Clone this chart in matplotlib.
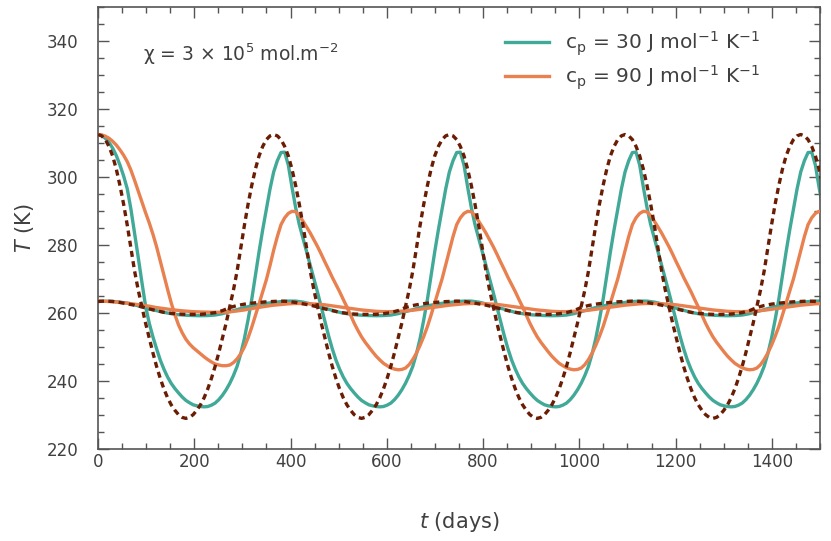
import numpy as np
import matplotlib
matplotlib.use("Agg")
import matplotlib.pyplot as plt
from matplotlib.ticker import MultipleLocator

# ---- data: temperatures (K) -------------------------------------------
# Large-amplitude series: sampled every 365/48 days
# equilibrium (forcing) temperature (dashed)
T_eq_big = [
    312.5, 312.1, 311.0, 309.0, 306.2, 302.3, 297.5, 292.0, 285.8, 279.0, 272.3, 266.7,
    261.8, 257.0, 252.6, 248.3, 244.3, 240.8, 237.7, 235.1, 233.0, 231.4, 230.1, 229.3,
    229.0, 229.3, 230.1, 231.4, 233.0, 235.1, 237.7, 240.8, 244.3, 248.3, 252.6, 257.0,
    261.8, 266.7, 272.3, 279.0, 285.8, 292.0, 297.5, 302.3, 306.2, 309.0, 311.0, 312.1,
    312.5, 312.1, 311.0, 309.0, 306.2, 302.3, 297.5, 292.0, 285.8, 279.0, 272.3, 266.7,
    261.8, 257.0, 252.6, 248.3, 244.3, 240.8, 237.7, 235.1, 233.0, 231.4, 230.1, 229.3,
    229.0, 229.3, 230.1, 231.4, 233.0, 235.1, 237.7, 240.8, 244.3, 248.3, 252.6, 257.0,
    261.8, 266.7, 272.3, 279.0, 285.8, 292.0, 297.5, 302.3, 306.2, 309.0, 311.0, 312.1,
    312.5, 312.1, 311.0, 309.0, 306.2, 302.3, 297.5, 292.0, 285.8, 279.0, 272.3, 266.7,
    261.8, 257.0, 252.6, 248.3, 244.3, 240.8, 237.7, 235.1, 233.0, 231.4, 230.1, 229.3,
    229.0, 229.3, 230.1, 231.4, 233.0, 235.1, 237.7, 240.8, 244.3, 248.3, 252.6, 257.0,
    261.8, 266.7, 272.3, 279.0, 285.8, 292.0, 297.5, 302.3, 306.2, 309.0, 311.0, 312.1,
    312.5, 312.1, 311.0, 309.0, 306.2, 302.3, 297.5, 292.0, 285.8, 279.0, 272.3, 266.7,
    261.8, 257.0, 252.6, 248.3, 244.3, 240.8, 237.7, 235.1, 233.0, 231.4, 230.1, 229.3,
    229.0, 229.3, 230.1, 231.4, 233.0, 235.1, 237.7, 240.8, 244.3, 248.3, 252.6, 257.0,
    261.8, 266.7, 272.3, 279.0, 285.8, 292.0, 297.5, 302.3, 306.2, 309.0, 311.0, 312.1,
    312.5, 312.1, 311.0, 309.0, 306.2, 302.3, 297.5,
]
# cp = 30 J/mol/K
T_cp30_big = [
    312.5, 312.2, 311.4, 310.2, 308.5, 306.3, 303.5, 300.3, 296.5, 290.5, 283.5, 276.3,
    269.0, 262.0, 257.0, 253.0, 249.5, 246.2, 243.5, 241.2, 239.3, 237.8, 236.5, 235.3,
    234.3, 233.6, 233.0, 232.7, 232.5, 232.4, 232.5, 232.9, 233.5, 234.5, 235.8, 237.4,
    239.3, 241.6, 244.3, 248.0, 252.5, 258.0, 264.0, 271.0, 278.0, 284.5, 290.5, 296.5,
    301.5, 304.8, 307.2, 307.3, 303.5, 297.0, 291.0, 286.0, 282.0, 278.0, 274.0, 270.0,
    266.0, 261.7, 257.5, 253.3, 249.5, 246.2, 243.5, 241.2, 239.3, 237.8, 236.5, 235.3,
    234.3, 233.6, 233.0, 232.7, 232.5, 232.4, 232.5, 232.9, 233.5, 234.5, 235.8, 237.4,
    239.3, 241.6, 244.3, 248.0, 252.5, 258.0, 264.0, 271.0, 278.0, 284.5, 290.5, 296.5,
    301.5, 304.8, 307.2, 307.3, 303.5, 297.0, 291.0, 286.0, 282.0, 278.0, 274.0, 270.0,
    266.0, 261.7, 257.5, 253.3, 249.5, 246.2, 243.5, 241.2, 239.3, 237.8, 236.5, 235.3,
    234.3, 233.6, 233.0, 232.7, 232.5, 232.4, 232.5, 232.9, 233.5, 234.5, 235.8, 237.4,
    239.3, 241.6, 244.3, 248.0, 252.5, 258.0, 264.0, 271.0, 278.0, 284.5, 290.5, 296.5,
    301.5, 304.8, 307.2, 307.3, 303.5, 297.0, 291.0, 286.0, 282.0, 278.0, 274.0, 270.0,
    266.0, 261.7, 257.5, 253.3, 249.5, 246.2, 243.5, 241.2, 239.3, 237.8, 236.5, 235.3,
    234.3, 233.6, 233.0, 232.7, 232.5, 232.4, 232.5, 232.9, 233.5, 234.5, 235.8, 237.4,
    239.3, 241.6, 244.3, 248.0, 252.5, 258.0, 264.0, 271.0, 278.0, 284.5, 290.5, 296.5,
    301.5, 304.8, 307.2, 307.3, 303.5, 297.0, 291.0,
]
# cp = 90 J/mol/K
T_cp90_big = [
    312.5, 312.4, 312.0, 311.4, 310.5, 309.4, 308.0, 306.4, 304.5, 302.0, 299.0, 295.8,
    292.5, 289.5, 286.5, 283.2, 279.5, 275.3, 271.0, 267.0, 263.0, 259.5, 256.5, 254.2,
    252.3, 250.9, 249.8, 248.9, 248.0, 247.1, 246.3, 245.6, 245.0, 244.7, 244.5, 244.5,
    244.7, 245.4, 246.5, 248.0, 250.0, 252.7, 255.8, 259.2, 262.7, 266.2, 269.8, 274.0,
    278.5, 282.5, 286.0, 288.0, 289.3, 289.9, 289.8, 288.6, 287.0, 285.3, 283.5, 281.5,
    279.5, 277.3, 275.0, 272.8, 270.5, 268.4, 266.3, 264.0, 261.8, 259.4, 257.0, 254.9,
    253.0, 251.4, 250.0, 248.6, 247.3, 246.2, 245.2, 244.5, 243.9, 243.5, 243.3, 243.4,
    243.8, 244.8, 246.3, 248.2, 250.5, 253.1, 256.0, 259.4, 263.0, 266.5, 270.0, 274.2,
    278.5, 282.5, 286.0, 288.0, 289.3, 289.9, 289.8, 288.6, 287.0, 285.3, 283.5, 281.5,
    279.5, 277.3, 275.0, 272.8, 270.5, 268.4, 266.3, 264.0, 261.8, 259.4, 257.0, 254.9,
    253.0, 251.4, 250.0, 248.6, 247.3, 246.2, 245.2, 244.5, 243.9, 243.5, 243.3, 243.4,
    243.8, 244.8, 246.3, 248.2, 250.5, 253.1, 256.0, 259.4, 263.0, 266.5, 270.0, 274.2,
    278.5, 282.5, 286.0, 288.0, 289.3, 289.9, 289.8, 288.6, 287.0, 285.3, 283.5, 281.5,
    279.5, 277.3, 275.0, 272.8, 270.5, 268.4, 266.3, 264.0, 261.8, 259.4, 257.0, 254.9,
    253.0, 251.4, 250.0, 248.6, 247.3, 246.2, 245.2, 244.5, 243.9, 243.5, 243.3, 243.4,
    243.8, 244.8, 246.3, 248.2, 250.5, 253.1, 256.0, 259.4, 263.0, 266.5, 270.0, 274.2,
    278.5, 282.5, 286.0, 288.0, 289.3, 289.9, 289.8,
]

# Small-amplitude series: sampled every 365/24 days
# equilibrium (forcing) temperature (dashed)
T_eq_small = [
    263.4, 263.5, 263.4, 263.1, 262.7, 262.3, 261.8, 261.2, 260.7, 260.2, 259.9, 259.7,
    259.6, 259.6, 259.6, 259.8, 260.1, 260.7, 261.6, 262.2, 262.6, 262.9, 263.1, 263.3,
    263.4, 263.5, 263.4, 263.1, 262.7, 262.3, 261.8, 261.2, 260.7, 260.2, 259.9, 259.7,
    259.6, 259.6, 259.6, 259.8, 260.1, 260.7, 261.6, 262.2, 262.6, 262.9, 263.1, 263.3,
    263.4, 263.5, 263.4, 263.1, 262.7, 262.3, 261.8, 261.2, 260.7, 260.2, 259.9, 259.7,
    259.6, 259.6, 259.6, 259.8, 260.1, 260.7, 261.6, 262.2, 262.6, 262.9, 263.1, 263.3,
    263.4, 263.5, 263.4, 263.1, 262.7, 262.3, 261.8, 261.2, 260.7, 260.2, 259.9, 259.7,
    259.6, 259.6, 259.6, 259.8, 260.1, 260.7, 261.6, 262.2, 262.6, 262.9, 263.1, 263.3,
    263.4, 263.5, 263.4, 263.1,
]
# cp = 30 J/mol/K
T_cp30_small = [
    263.4, 263.45, 263.4, 263.2, 262.9, 262.4, 261.8, 261.2, 260.7, 260.2, 259.8, 259.5,
    259.35, 259.25, 259.2, 259.25, 259.4, 259.8, 260.4, 261.0, 261.6, 262.1, 262.5, 262.85,
    263.1, 263.35, 263.5, 263.5, 263.2, 262.7, 262.0, 261.4, 260.8, 260.2, 259.8, 259.5,
    259.35, 259.25, 259.2, 259.25, 259.4, 259.8, 260.4, 261.0, 261.6, 262.1, 262.5, 262.85,
    263.1, 263.35, 263.5, 263.5, 263.2, 262.7, 262.0, 261.4, 260.8, 260.2, 259.8, 259.5,
    259.35, 259.25, 259.2, 259.25, 259.4, 259.8, 260.4, 261.0, 261.6, 262.1, 262.5, 262.85,
    263.1, 263.35, 263.5, 263.5, 263.2, 262.7, 262.0, 261.4, 260.8, 260.2, 259.8, 259.5,
    259.35, 259.25, 259.2, 259.25, 259.4, 259.8, 260.4, 261.0, 261.6, 262.1, 262.5, 262.85,
    263.1, 263.35, 263.5, 263.5,
]
# cp = 90 J/mol/K
T_cp90_small = [
    263.5, 263.45, 263.3, 263.1, 262.9, 262.6, 262.3, 262.0, 261.6, 261.3, 261.0, 260.75,
    260.55, 260.4, 260.3, 260.25, 260.2, 260.25, 260.35, 260.6, 260.9, 261.3, 261.65, 262.0,
    262.3, 262.5, 262.7, 262.8, 262.8, 262.7, 262.6, 262.4, 262.1, 261.8, 261.5, 261.2,
    260.9, 260.7, 260.5, 260.4, 260.4, 260.5, 260.6, 260.8, 261.1, 261.4, 261.7, 262.0,
    262.3, 262.5, 262.7, 262.8, 262.8, 262.7, 262.6, 262.4, 262.1, 261.8, 261.5, 261.2,
    260.9, 260.7, 260.5, 260.4, 260.4, 260.5, 260.6, 260.8, 261.1, 261.4, 261.7, 262.0,
    262.3, 262.5, 262.7, 262.8, 262.8, 262.7, 262.6, 262.4, 262.1, 261.8, 261.5, 261.2,
    260.9, 260.7, 260.5, 260.4, 260.4, 260.5, 260.6, 260.8, 261.1, 261.4, 261.7, 262.0,
    262.3, 262.5, 262.7, 262.8,
]

# sample times (days)
days_big = np.arange(len(T_eq_big)) * 365.0 / 48.0
days_small = np.arange(len(T_eq_small)) * 365.0 / 24.0

labels = [r'c$_\mathrm{p}$ = 30 J mol$^{\mathrm{-1}}$ K$^{\mathrm{-1}}$',
          r'c$_\mathrm{p}$ = 90 J mol$^{\mathrm{-1}}$ K$^{\mathrm{-1}}$']
annotation = r'χ = 3 × 10$^{5}$ mol.m$^{\mathrm{-2}}$'

# ---- style --------------------------------------------------------------
plt.rcParams['font.family'] = ['DejaVu Sans']
plt.rcParams['mathtext.fontset'] = 'dejavusans'
TXT = '#404040'
AX = '#555555'
TEAL = '#41a997'
ORANGE = '#e8804f'
BROWN = '#6b1d04'

fig = plt.figure(figsize=(8.31, 5.41), dpi=100)
ax = fig.add_axes([98 / 831, 1 - 449 / 541, (820 - 98) / 831, (449 - 7) / 541])

lw = 2.4
dash = (0, (1.8, 1.3))
ax.plot(days_big, T_cp30_big, color=TEAL, lw=lw, label=labels[0], zorder=2)
ax.plot(days_small, T_cp30_small, color=TEAL, lw=lw, zorder=2)
ax.plot(days_big, T_cp90_big, color=ORANGE, lw=lw, label=labels[1], zorder=3)
ax.plot(days_small, T_cp90_small, color=ORANGE, lw=lw, zorder=3)
ax.plot(days_big, T_eq_big, color=BROWN, lw=2.4, ls=dash, zorder=4)
ax.plot(days_small, T_eq_small, color=BROWN, lw=2.4, ls=dash, zorder=4)

ax.set_xlim(0, 1500)
ax.set_ylim(220, 350)
ax.xaxis.set_major_locator(MultipleLocator(200))
ax.xaxis.set_minor_locator(MultipleLocator(50))
ax.yaxis.set_minor_locator(MultipleLocator(5))
ax.set_yticks([220, 240, 260, 280, 300, 320, 340])

ax.tick_params(which='both', direction='in', top=True, right=True,
               color=AX, labelcolor=TXT, labelsize=12, width=1.0)
ax.tick_params(which='major', length=8)
ax.tick_params(which='minor', length=4)
ax.tick_params(axis='x', which='major', pad=3)
ax.tick_params(axis='y', which='major', pad=14)
for s in ax.spines.values():
    s.set_color(AX)
    s.set_linewidth(1.2)

ax.set_xlabel(r'$t$ (days)', fontsize=15, color=TXT, labelpad=28)
ax.set_ylabel(r'$T$ (K)', fontsize=15, color=TXT, labelpad=8)

ax.text(0.062, 0.893, annotation, transform=ax.transAxes, fontsize=13.5,
        color=TXT, va='center', ha='left')

leg = ax.legend(loc='upper right', frameon=False, fontsize=14.5,
                handlelength=2.2, handletextpad=0.8, labelspacing=0.3,
                borderaxespad=0.7, bbox_to_anchor=(0.948, 1.0))
for t in leg.get_texts():
    t.set_color(TXT)

fig.savefig('out.png', dpi=100)
